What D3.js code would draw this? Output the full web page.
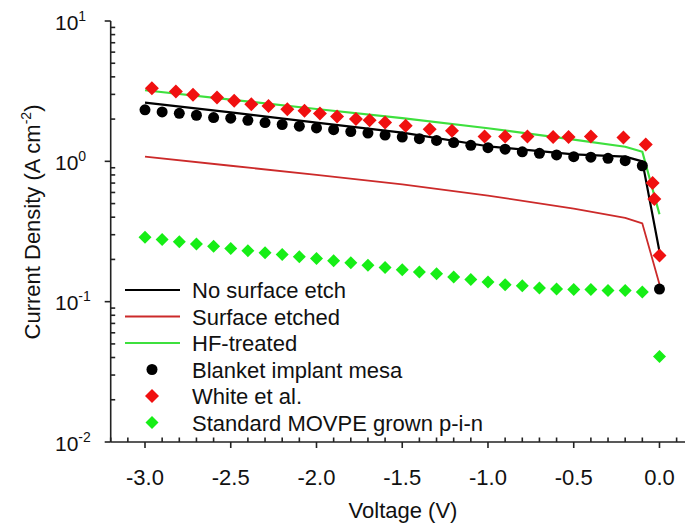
<!DOCTYPE html>
<html><head><meta charset="utf-8">
<script src="https://cdn.jsdelivr.net/npm/d3@7/dist/d3.min.js"></script>
<style>body{margin:0;background:#fff}svg{display:block;font-family:"Liberation Sans",Arial,sans-serif}</style>
</head><body><svg id="c" width="685" height="529"></svg>
<script>
// ---- data ----
const gridV = [-3.0,-2.9,-2.8,-2.7,-2.6,-2.5,-2.4,-2.3,-2.2,-2.1,-2.0,-1.9,-1.8,-1.7,-1.6,-1.5,-1.4,-1.3,-1.2,-1.1,-1.0,-0.9,-0.8,-0.7,-0.6,-0.5,-0.4,-0.3,-0.2,-0.1,0.0];
const blanketJ = [2.33,2.25,2.20,2.13,2.05,2.03,1.96,1.89,1.83,1.78,1.73,1.68,1.63,1.59,1.54,1.49,1.45,1.41,1.36,1.30,1.25,1.22,1.17,1.14,1.11,1.08,1.07,1.05,1.01,0.93,0.123];
const movpeJ = [0.288,0.277,0.267,0.258,0.248,0.239,0.231,0.223,0.217,0.209,0.203,0.196,0.189,0.182,0.175,0.169,0.163,0.158,0.150,0.144,0.138,0.132,0.130,0.125,0.123,0.122,0.122,0.120,0.120,0.117,0.0407];
const whiteV = [-2.96,-2.82,-2.72,-2.58,-2.48,-2.38,-2.28,-2.17,-2.07,-1.98,-1.88,-1.77,-1.69,-1.60,-1.48,-1.34,-1.21,-1.02,-0.90,-0.77,-0.62,-0.53,-0.40,-0.21,-0.08,-0.04,-0.03,0.0];
const whiteJ = [3.32,3.15,2.98,2.85,2.70,2.55,2.48,2.35,2.29,2.19,2.09,2.00,1.96,1.89,1.79,1.69,1.65,1.50,1.50,1.50,1.49,1.49,1.50,1.48,1.32,0.70,0.54,0.213];
const lineV = [-3.0,-2.5,-2.0,-1.5,-1.0,-0.5,-0.2,-0.1,0.0];
const noEtchJ = [2.62,2.23,1.89,1.60,1.28,1.12,1.08,1.00,0.228];
const etchedJ = [1.08,0.93,0.80,0.685,0.57,0.46,0.396,0.361,0.133];
const hfJ = [3.21,2.75,2.36,2.03,1.72,1.43,1.27,1.17,0.42];
const xTicks = [-3.0,-2.5,-2.0,-1.5,-1.0,-0.5,0.0];
const yTicks = [10,1,0.1,0.01];
const yTickExp = ["1","0","-1","-2"];
const legendLabels = ["No surface etch","Surface etched","HF-treated","Blanket implant mesa","White et al.","Standard MOVPE grown p-i-n"];

// ---- scales ----
const svg = d3.select("#c");
const x = d3.scaleLinear().domain([-3.2, 0.15]).range([110.7, 685.2]);
const y = d3.scaleLog().domain([0.01, 10]).range([442, 21]);
const X0 = x(-3.2), Y0 = y(0.01);

const colBlack = "#000", colRedLine = "#cc2a2a", colGreenLine = "#3ee03e", colRedPt = "#f01010", colGreenPt = "#16ee16";

// ---- axes ----
const ax = svg.append("g").attr("stroke","#222").attr("stroke-width",1.6);
ax.append("line").attr("x1",X0).attr("x2",685).attr("y1",Y0).attr("y2",Y0);
ax.append("line").attr("x1",X0).attr("x2",X0).attr("y1",y(10)).attr("y2",Y0);
// x major ticks (outward)
xTicks.forEach(v=>ax.append("line").attr("x1",x(v)).attr("x2",x(v)).attr("y1",Y0).attr("y2",Y0+6));
// x minor ticks (inward)
d3.range(-32,2).map(i=>i/10).filter(v=>Math.abs(v*2-Math.round(v*2))>1e-6).forEach(v=>{
  ax.append("line").attr("x1",x(v)).attr("x2",x(v)).attr("y1",Y0).attr("y2",Y0-4.5);
});
// y major ticks
yTicks.forEach(v=>ax.append("line").attr("x1",X0-6).attr("x2",X0).attr("y1",y(v)).attr("y2",y(v)));
// y minor ticks
[0.01,0.1,1].forEach(d=>d3.range(2,10).forEach(m=>{
  const v=d*m; ax.append("line").attr("x1",X0).attr("x2",X0+4.5).attr("y1",y(v)).attr("y2",y(v));
}));
// x tick labels
svg.append("g").selectAll("text").data(xTicks).join("text")
  .attr("x",d=>x(d)).attr("y",485).attr("text-anchor","middle").attr("font-size",22).attr("fill","#111")
  .text(d=>d.toFixed(1).replace("-","-"));
// y tick labels
yTicks.forEach((v,i)=>{
  const t=svg.append("text").attr("x",55).attr("y",y(v)+8.5).attr("font-size",21).attr("fill","#111");
  t.append("tspan").text("10");
  t.append("tspan").attr("dy",-9).attr("font-size",14).text(yTickExp[i]);
});
// axis titles
svg.append("text").attr("x",403).attr("y",518).attr("text-anchor","middle").attr("font-size",22).attr("fill","#111").text("Voltage (V)");
const yt=svg.append("text").attr("transform","translate(40,222) rotate(-90)").attr("text-anchor","middle").attr("font-size",22).attr("fill","#111");
yt.append("tspan").text("Current Density (A cm");
yt.append("tspan").attr("dy",-9).attr("font-size",14).text("-2");
yt.append("tspan").attr("dy",9).text(")");

// ---- lines ----
const line = d3.line().x(d=>x(d[0])).y(d=>y(d[1]));
const drawLine=(J,c,w)=>svg.append("path").attr("d",line(lineV.map((v,i)=>[v,J[i]]))).attr("fill","none").attr("stroke",c).attr("stroke-width",w).attr("stroke-linejoin","round");
drawLine(hfJ,colGreenLine,2.2);
drawLine(etchedJ,colRedLine,1.8);
drawLine(noEtchJ,colBlack,2.2);

// ---- markers ----
const diamond=(s)=>`M0,${-s}L${s},0L0,${s}L${-s},0Z`;
svg.append("g").selectAll("circle").data(gridV.map((v,i)=>[v,blanketJ[i]])).join("circle")
  .attr("cx",d=>x(d[0])).attr("cy",d=>y(d[1])).attr("r",5.5).attr("fill",colBlack);
svg.append("g").selectAll("path").data(whiteV.map((v,i)=>[v,whiteJ[i]])).join("path")
  .attr("transform",d=>`translate(${x(d[0])},${y(d[1])})`).attr("d",diamond(7)).attr("fill",colRedPt);
svg.append("g").selectAll("path").data(gridV.map((v,i)=>[v,movpeJ[i]])).join("path")
  .attr("transform",d=>`translate(${x(d[0])},${y(d[1])})`).attr("d",diamond(6.5)).attr("fill",colGreenPt);

// ---- legend ----
const lg = svg.append("g");
const rowY = i => 290 + i*26.5;
const styles = [
  {t:"line",c:colBlack,w:2.2},{t:"line",c:colRedLine,w:1.8},{t:"line",c:colGreenLine,w:2.2},
  {t:"circle",c:colBlack},{t:"diamond",c:colRedPt,s:7},{t:"diamond",c:colGreenPt,s:6.5}];
legendLabels.forEach((lab,i)=>{
  const s=styles[i], yy=rowY(i);
  if(s.t==="line") lg.append("line").attr("x1",125).attr("x2",180).attr("y1",yy).attr("y2",yy).attr("stroke",s.c).attr("stroke-width",s.w);
  else if(s.t==="circle") lg.append("circle").attr("cx",152).attr("cy",yy).attr("r",5.5).attr("fill",s.c);
  else lg.append("path").attr("transform",`translate(152,${yy})`).attr("d",diamond(s.s)).attr("fill",s.c);
  lg.append("text").attr("x",192).attr("y",yy+8).attr("font-size",22).attr("fill","#111").text(lab);
});
</script></body></html>
